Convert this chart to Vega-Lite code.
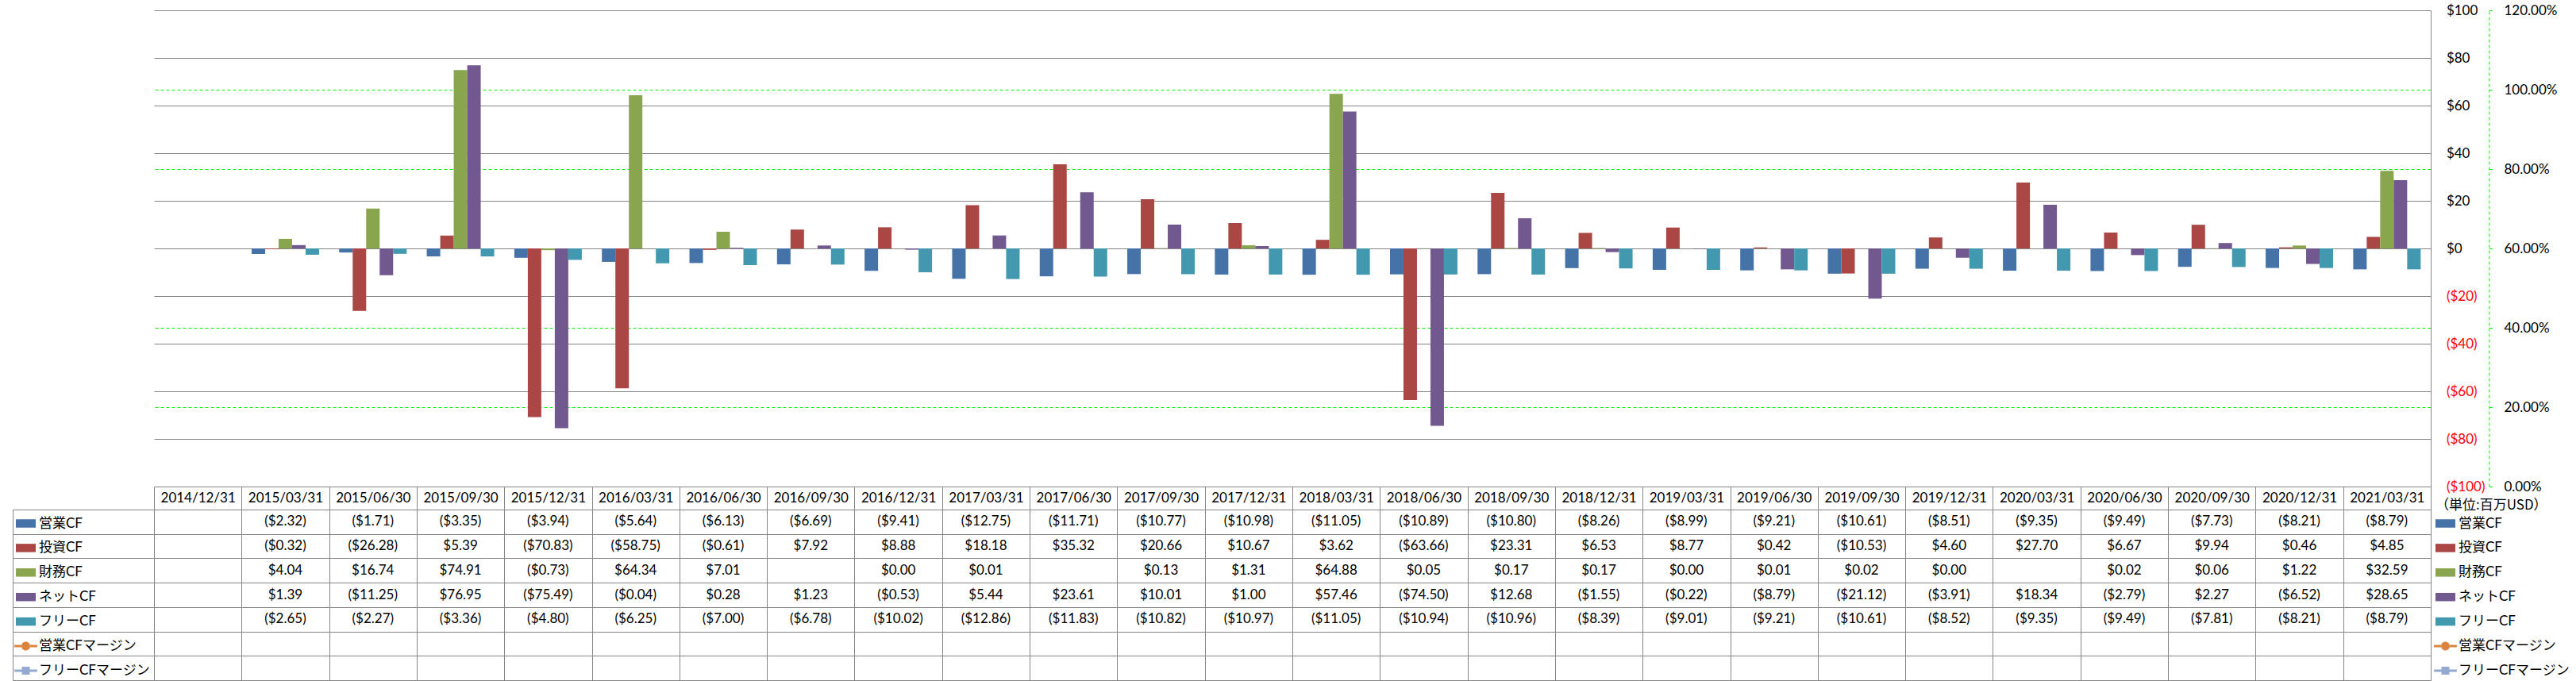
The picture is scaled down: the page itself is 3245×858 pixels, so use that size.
{
  "$schema": "https://vega.github.io/schema/vega-lite/v6.json",
  "width": 2868,
  "height": 844,
  "autosize": {"type": "none"},
  "padding": {"left": 194, "top": 13, "right": 183, "bottom": 1},
  "background": "white",
  "config": {
    "font": "Lato, 'Noto Sans CJK JP', sans-serif",
    "view": {"stroke": null},
    "axis": {"labelFont": "Lato, 'Noto Sans CJK JP', sans-serif", "labelFontSize": 17, "labelColor": "#000000"},
    "legend": {"labelFont": "Lato, 'Noto Sans CJK JP', sans-serif", "titleFont": "'Noto Sans CJK JP', sans-serif"}
  },
  "data": {"values": [
    {"date": "2015/03/31", "series": "営業CF", "value": -2.32},
    {"date": "2015/06/30", "series": "営業CF", "value": -1.71},
    {"date": "2015/09/30", "series": "営業CF", "value": -3.35},
    {"date": "2015/12/31", "series": "営業CF", "value": -3.94},
    {"date": "2016/03/31", "series": "営業CF", "value": -5.64},
    {"date": "2016/06/30", "series": "営業CF", "value": -6.13},
    {"date": "2016/09/30", "series": "営業CF", "value": -6.69},
    {"date": "2016/12/31", "series": "営業CF", "value": -9.41},
    {"date": "2017/03/31", "series": "営業CF", "value": -12.75},
    {"date": "2017/06/30", "series": "営業CF", "value": -11.71},
    {"date": "2017/09/30", "series": "営業CF", "value": -10.77},
    {"date": "2017/12/31", "series": "営業CF", "value": -10.98},
    {"date": "2018/03/31", "series": "営業CF", "value": -11.05},
    {"date": "2018/06/30", "series": "営業CF", "value": -10.89},
    {"date": "2018/09/30", "series": "営業CF", "value": -10.80},
    {"date": "2018/12/31", "series": "営業CF", "value": -8.26},
    {"date": "2019/03/31", "series": "営業CF", "value": -8.99},
    {"date": "2019/06/30", "series": "営業CF", "value": -9.21},
    {"date": "2019/09/30", "series": "営業CF", "value": -10.61},
    {"date": "2019/12/31", "series": "営業CF", "value": -8.51},
    {"date": "2020/03/31", "series": "営業CF", "value": -9.35},
    {"date": "2020/06/30", "series": "営業CF", "value": -9.49},
    {"date": "2020/09/30", "series": "営業CF", "value": -7.73},
    {"date": "2020/12/31", "series": "営業CF", "value": -8.21},
    {"date": "2021/03/31", "series": "営業CF", "value": -8.79},
    {"date": "2015/03/31", "series": "投資CF", "value": -0.32},
    {"date": "2015/06/30", "series": "投資CF", "value": -26.28},
    {"date": "2015/09/30", "series": "投資CF", "value": 5.39},
    {"date": "2015/12/31", "series": "投資CF", "value": -70.83},
    {"date": "2016/03/31", "series": "投資CF", "value": -58.75},
    {"date": "2016/06/30", "series": "投資CF", "value": -0.61},
    {"date": "2016/09/30", "series": "投資CF", "value": 7.92},
    {"date": "2016/12/31", "series": "投資CF", "value": 8.88},
    {"date": "2017/03/31", "series": "投資CF", "value": 18.18},
    {"date": "2017/06/30", "series": "投資CF", "value": 35.32},
    {"date": "2017/09/30", "series": "投資CF", "value": 20.66},
    {"date": "2017/12/31", "series": "投資CF", "value": 10.67},
    {"date": "2018/03/31", "series": "投資CF", "value": 3.62},
    {"date": "2018/06/30", "series": "投資CF", "value": -63.66},
    {"date": "2018/09/30", "series": "投資CF", "value": 23.31},
    {"date": "2018/12/31", "series": "投資CF", "value": 6.53},
    {"date": "2019/03/31", "series": "投資CF", "value": 8.77},
    {"date": "2019/06/30", "series": "投資CF", "value": 0.42},
    {"date": "2019/09/30", "series": "投資CF", "value": -10.53},
    {"date": "2019/12/31", "series": "投資CF", "value": 4.60},
    {"date": "2020/03/31", "series": "投資CF", "value": 27.70},
    {"date": "2020/06/30", "series": "投資CF", "value": 6.67},
    {"date": "2020/09/30", "series": "投資CF", "value": 9.94},
    {"date": "2020/12/31", "series": "投資CF", "value": 0.46},
    {"date": "2021/03/31", "series": "投資CF", "value": 4.85},
    {"date": "2015/03/31", "series": "財務CF", "value": 4.04},
    {"date": "2015/06/30", "series": "財務CF", "value": 16.74},
    {"date": "2015/09/30", "series": "財務CF", "value": 74.91},
    {"date": "2015/12/31", "series": "財務CF", "value": -0.73},
    {"date": "2016/03/31", "series": "財務CF", "value": 64.34},
    {"date": "2016/06/30", "series": "財務CF", "value": 7.01},
    {"date": "2016/12/31", "series": "財務CF", "value": 0.00},
    {"date": "2017/03/31", "series": "財務CF", "value": 0.01},
    {"date": "2017/09/30", "series": "財務CF", "value": 0.13},
    {"date": "2017/12/31", "series": "財務CF", "value": 1.31},
    {"date": "2018/03/31", "series": "財務CF", "value": 64.88},
    {"date": "2018/06/30", "series": "財務CF", "value": 0.05},
    {"date": "2018/09/30", "series": "財務CF", "value": 0.17},
    {"date": "2018/12/31", "series": "財務CF", "value": 0.17},
    {"date": "2019/03/31", "series": "財務CF", "value": 0.00},
    {"date": "2019/06/30", "series": "財務CF", "value": 0.01},
    {"date": "2019/09/30", "series": "財務CF", "value": 0.02},
    {"date": "2019/12/31", "series": "財務CF", "value": 0.00},
    {"date": "2020/06/30", "series": "財務CF", "value": 0.02},
    {"date": "2020/09/30", "series": "財務CF", "value": 0.06},
    {"date": "2020/12/31", "series": "財務CF", "value": 1.22},
    {"date": "2021/03/31", "series": "財務CF", "value": 32.59},
    {"date": "2015/03/31", "series": "ネットCF", "value": 1.39},
    {"date": "2015/06/30", "series": "ネットCF", "value": -11.25},
    {"date": "2015/09/30", "series": "ネットCF", "value": 76.95},
    {"date": "2015/12/31", "series": "ネットCF", "value": -75.49},
    {"date": "2016/03/31", "series": "ネットCF", "value": -0.04},
    {"date": "2016/06/30", "series": "ネットCF", "value": 0.28},
    {"date": "2016/09/30", "series": "ネットCF", "value": 1.23},
    {"date": "2016/12/31", "series": "ネットCF", "value": -0.53},
    {"date": "2017/03/31", "series": "ネットCF", "value": 5.44},
    {"date": "2017/06/30", "series": "ネットCF", "value": 23.61},
    {"date": "2017/09/30", "series": "ネットCF", "value": 10.01},
    {"date": "2017/12/31", "series": "ネットCF", "value": 1.00},
    {"date": "2018/03/31", "series": "ネットCF", "value": 57.46},
    {"date": "2018/06/30", "series": "ネットCF", "value": -74.50},
    {"date": "2018/09/30", "series": "ネットCF", "value": 12.68},
    {"date": "2018/12/31", "series": "ネットCF", "value": -1.55},
    {"date": "2019/03/31", "series": "ネットCF", "value": -0.22},
    {"date": "2019/06/30", "series": "ネットCF", "value": -8.79},
    {"date": "2019/09/30", "series": "ネットCF", "value": -21.12},
    {"date": "2019/12/31", "series": "ネットCF", "value": -3.91},
    {"date": "2020/03/31", "series": "ネットCF", "value": 18.34},
    {"date": "2020/06/30", "series": "ネットCF", "value": -2.79},
    {"date": "2020/09/30", "series": "ネットCF", "value": 2.27},
    {"date": "2020/12/31", "series": "ネットCF", "value": -6.52},
    {"date": "2021/03/31", "series": "ネットCF", "value": 28.65},
    {"date": "2015/03/31", "series": "フリーCF", "value": -2.65},
    {"date": "2015/06/30", "series": "フリーCF", "value": -2.27},
    {"date": "2015/09/30", "series": "フリーCF", "value": -3.36},
    {"date": "2015/12/31", "series": "フリーCF", "value": -4.80},
    {"date": "2016/03/31", "series": "フリーCF", "value": -6.25},
    {"date": "2016/06/30", "series": "フリーCF", "value": -7.00},
    {"date": "2016/09/30", "series": "フリーCF", "value": -6.78},
    {"date": "2016/12/31", "series": "フリーCF", "value": -10.02},
    {"date": "2017/03/31", "series": "フリーCF", "value": -12.86},
    {"date": "2017/06/30", "series": "フリーCF", "value": -11.83},
    {"date": "2017/09/30", "series": "フリーCF", "value": -10.82},
    {"date": "2017/12/31", "series": "フリーCF", "value": -10.97},
    {"date": "2018/03/31", "series": "フリーCF", "value": -11.05},
    {"date": "2018/06/30", "series": "フリーCF", "value": -10.94},
    {"date": "2018/09/30", "series": "フリーCF", "value": -10.96},
    {"date": "2018/12/31", "series": "フリーCF", "value": -8.39},
    {"date": "2019/03/31", "series": "フリーCF", "value": -9.01},
    {"date": "2019/06/30", "series": "フリーCF", "value": -9.21},
    {"date": "2019/09/30", "series": "フリーCF", "value": -10.61},
    {"date": "2019/12/31", "series": "フリーCF", "value": -8.52},
    {"date": "2020/03/31", "series": "フリーCF", "value": -9.35},
    {"date": "2020/06/30", "series": "フリーCF", "value": -9.49},
    {"date": "2020/09/30", "series": "フリーCF", "value": -7.81},
    {"date": "2020/12/31", "series": "フリーCF", "value": -8.21},
    {"date": "2021/03/31", "series": "フリーCF", "value": -8.79}
  ]},
  "layer": [
    {
      "mark": {"type": "bar"},
      "encoding": {
        "x": {
          "field": "date", "type": "nominal",
          "scale": {"domain": ["2014/12/31","2015/03/31","2015/06/30","2015/09/30","2015/12/31","2016/03/31","2016/06/30","2016/09/30","2016/12/31","2017/03/31","2017/06/30","2017/09/30","2017/12/31","2018/03/31","2018/06/30","2018/09/30","2018/12/31","2019/03/31","2019/06/30","2019/09/30","2019/12/31","2020/03/31","2020/06/30","2020/09/30","2020/12/31","2021/03/31"], "paddingInner": 0, "paddingOuter": 0},
          "axis": {"orient": "bottom", "title": null, "domain": true, "domainColor": "#868686", "ticks": true, "tickBand": "extent", "tickSize": -244, "tickColor": "#868686", "labelAngle": 0, "labelBaseline": "middle", "labelAlign": "center", "labelPadding": 14.8, "labelOverlap": false, "grid": false}
        },
        "xOffset": {"field": "series", "type": "nominal", "scale": {"domain": ["営業CF","投資CF","財務CF","ネットCF","フリーCF"], "paddingInner": 0, "paddingOuter": 0.745}},
        "y": {
          "field": "value", "type": "quantitative",
          "scale": {"domain": [-100, 100], "range": [600, 0], "nice": false},
          "axis": {"orient": "right", "title": null, "values": [-100,-80,-60,-40,-20,0,20,40,60,80,100], "format": "($.0f", "labelColor": {"condition": {"test": "datum.value < 0", "value": "#ff0000"}, "value": "#000000"}, "labelAlign": "left", "labelBaseline": "middle", "labelPadding": 19.4, "ticks": false, "domain": true, "domainColor": "#868686", "grid": true, "gridColor": "#868686", "labelOverlap": false, "labelFlush": false, "labelBound": false}
        },
        "color": {"field": "series", "type": "nominal", "scale": {"domain": ["営業CF","投資CF","財務CF","ネットCF","フリーCF"], "range": ["#4572A7","#AA4643","#89A54E","#71588F","#4198AF"]}, "legend": null}
      }
    },
    {
      "mark": {"type": "line"},
      "encoding": {
        "x": {"field": "date", "type": "nominal"},
        "y": {
          "field": "margin", "type": "quantitative",
          "scale": {"domain": [0, 1.2], "range": [600, 0], "nice": false},
          "axis": {"orient": "right", "offset": 73.4, "title": null, "values": [0,0.2,0.4,0.6,0.8,1,1.2], "format": ".2%", "labelAlign": "left", "labelBaseline": "middle", "labelPadding": 14.6, "domain": true, "domainColor": "#00ee00", "domainDash": [4,3], "ticks": true, "tickColor": "#00ee00", "tickSize": 4, "grid": true, "gridColor": "#00ee00", "gridDash": [4,3], "gridOpacity": {"condition": {"test": "datum.value < 0.1 || datum.value > 1.1 || (datum.value > 0.5 && datum.value < 0.7)", "value": 0}, "value": 1}, "labelOverlap": false, "labelFlush": false, "labelBound": false}
        }
      }
    },
    {
      "mark": {"type": "text", "fontSize": 17, "color": "#000000", "font": "Lato, sans-serif"},
      "encoding": {
        "x": {"field": "date", "type": "nominal"},
        "y": {
          "field": "series", "type": "nominal",
          "scale": {"type": "band", "domain": ["営業CF","投資CF","財務CF","ネットCF","フリーCF","営業CFマージン","フリーCFマージン"], "range": [629, 844], "paddingInner": 0, "paddingOuter": 0},
          "axis": {"orient": "left", "offset": 178, "title": null, "labels": false, "domain": true, "domainColor": "#868686", "ticks": true, "tickBand": "extent", "tickSize": -178, "tickColor": "#868686", "grid": true, "gridColor": "#868686"}
        },
        "text": {"field": "value", "type": "quantitative", "format": "($.2f"}
      }
    },
    {
      "transform": [{"filter": "false"}],
      "mark": {"type": "point", "filled": true},
      "encoding": {
        "color": {"field": "series", "type": "nominal", "scale": {"domain": ["営業CF","投資CF","財務CF","ネットCF","フリーCF","営業CFマージン","フリーCFマージン"], "range": ["#4572A7","#AA4643","#89A54E","#71588F","#4198AF","#DB843D","#93A9CF"]},
          "legend": {"orient": "none", "legendX": -174, "legendY": 634, "title": null, "padding": 0, "symbolSize": 625, "symbolStrokeWidth": 0, "symbolOpacity": 1, "rowPadding": 9.9, "labelOffset": 4, "labelFontSize": 17, "labelColor": "#000000", "labelLimit": 400}},
        "shape": {"field": "series", "type": "nominal", "scale": {"domain": ["営業CF","投資CF","財務CF","ネットCF","フリーCF","営業CFマージン","フリーCFマージン"], "range": ["M-1,-0.42H1V0.42H-1Z","M-1,-0.42H1V0.42H-1Z","M-1,-0.42H1V0.42H-1Z","M-1,-0.42H1V0.42H-1Z","M-1,-0.42H1V0.42H-1Z","M-1.15,-0.12H-0.42V0.12H-1.15Z M0.42,-0.12H1.15V0.12H0.42Z M-0.44,0A0.44,0.44 0 1,0 0.44,0A0.44,0.44 0 1,0 -0.44,0Z","M-1.15,-0.12H-0.4V0.12H-1.15Z M0.4,-0.12H1.15V0.12H0.4Z M-0.4,-0.4H0.4V0.4H-0.4Z"]},
          "legend": {"orient": "none", "legendX": -174, "legendY": 634, "title": null, "padding": 0, "symbolSize": 625, "symbolStrokeWidth": 0, "symbolOpacity": 1, "rowPadding": 9.9, "labelOffset": 4, "labelFontSize": 17, "labelColor": "#000000", "labelLimit": 400}}
      }
    },
    {
      "transform": [{"filter": "false"}],
      "mark": {"type": "point", "filled": true},
      "encoding": {
        "color": {"field": "series", "type": "nominal", "scale": {"domain": ["営業CF","投資CF","財務CF","ネットCF","フリーCF","営業CFマージン","フリーCFマージン"], "range": ["#4572A7","#AA4643","#89A54E","#71588F","#4198AF","#DB843D","#93A9CF"]},
          "legend": {"orient": "none", "legendX": 2874, "legendY": 615.6, "title": "（単位:百万USD）", "titleFontSize": 17, "titleFontWeight": "normal", "titleColor": "#000000", "titlePadding": 1.4, "padding": 0, "symbolSize": 625, "symbolStrokeWidth": 0, "symbolOpacity": 1, "rowPadding": 9.9, "labelOffset": 4, "labelFontSize": 17, "labelColor": "#000000", "labelLimit": 400}},
        "shape": {"field": "series", "type": "nominal", "scale": {"domain": ["営業CF","投資CF","財務CF","ネットCF","フリーCF","営業CFマージン","フリーCFマージン"], "range": ["M-1,-0.42H1V0.42H-1Z","M-1,-0.42H1V0.42H-1Z","M-1,-0.42H1V0.42H-1Z","M-1,-0.42H1V0.42H-1Z","M-1,-0.42H1V0.42H-1Z","M-1.15,-0.12H-0.42V0.12H-1.15Z M0.42,-0.12H1.15V0.12H0.42Z M-0.44,0A0.44,0.44 0 1,0 0.44,0A0.44,0.44 0 1,0 -0.44,0Z","M-1.15,-0.12H-0.4V0.12H-1.15Z M0.4,-0.12H1.15V0.12H0.4Z M-0.4,-0.4H0.4V0.4H-0.4Z"]},
          "legend": {"orient": "none", "legendX": 2874, "legendY": 615.6, "title": "（単位:百万USD）", "titleFontSize": 17, "titleFontWeight": "normal", "titleColor": "#000000", "titlePadding": 1.4, "padding": 0, "symbolSize": 625, "symbolStrokeWidth": 0, "symbolOpacity": 1, "rowPadding": 9.9, "labelOffset": 4, "labelFontSize": 17, "labelColor": "#000000", "labelLimit": 400}}
      }
    }
  ],
  "resolve": {
    "scale": {"y": "independent", "color": "independent", "shape": "independent"},
    "axis": {"y": "independent"},
    "legend": {"color": "independent", "shape": "independent"}
  }
}
